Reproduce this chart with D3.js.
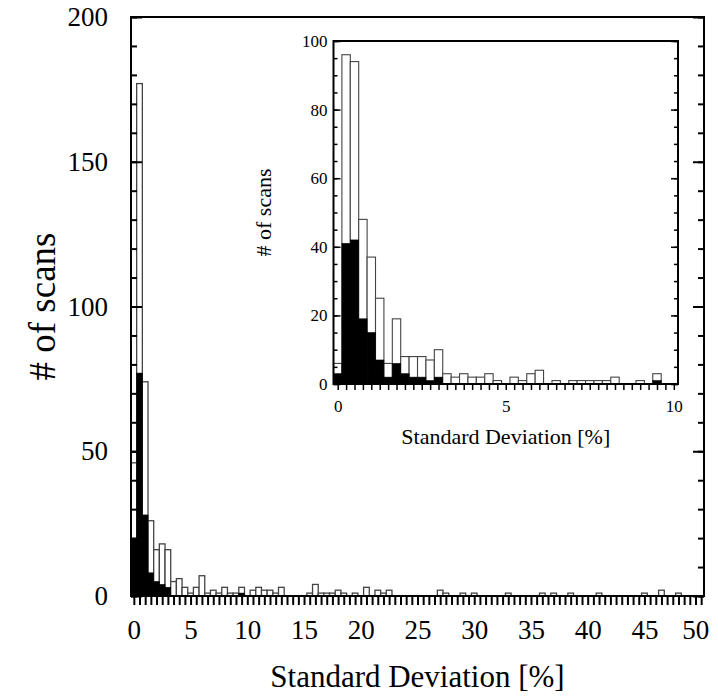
<!DOCTYPE html>
<html>
<head>
<meta charset="utf-8">
<script src="https://cdn.jsdelivr.net/npm/d3@7"></script>
<style>
  html, body { margin: 0; padding: 0; background: #fff; }
  svg { display: block; }
  text { font-family: "Liberation Serif", "Times New Roman", serif; fill: #000; }
</style>
</head>
<body>
<svg id="chart" width="718" height="696"></svg>
<script>
// ---------- data ----------
// main histogram: bins of width 0.5 %, centred at 0, 0.5, 1.0 ... 50
const mainBinWidth = 0.5;
const mainTotal = [46,177,74,26,16,18,16,5,6,3,
                   1,3,7,1,2,1,3,1,1,3,
                   0,2,3,2,2,1,3,0,0,0,
                   0,1,4,1,1,1,2,1,0,1,
                   0,3,0,2,1,2,0,0,0,0,
                   0,0,0,0,2,1,0,0,1,0,
                   1,0,0,0,0,0,1,0,0,0,
                   0,0,1,0,1,0,0,1,0,0,
                   0,0,1,0,0,0,0,0,0,0,
                   1,0,0,2,0,0,1,0,0,0,
                   0];
const mainBlack = [20,77,28,8,5,4,3,0,0,0,
                   0,0,0,0,0,0,0,0,0,1];
const mainXTickLabels = [0,5,10,15,20,25,30,35,40,45,50];
const mainYTickLabels = [0,50,100,150,200];

// inset histogram: bins of width 0.25 %, centred at 0, 0.25 ... 10
const insetBinWidth = 0.25;
const insetTotal = [6,96,94,48,37,25,6,19,8,8,
                    8,7,10,3,2,3,2,2,3,1,
                    0,2,1,3,4,0,1,0,1,1,
                    1,1,1,2,0,0,1,0,3,0,
                    0];
const insetBlack = [3,41,42,19,15,7,2,6,3,2,
                    2,1,2,0,0,0,0,0,0,0,
                    0,0,0,0,0,0,0,0,0,0,
                    0,0,0,0,0,0,0,0,1,0,
                    0];
const insetXTickLabels = [0,5,10];
const insetYTickLabels = [0,20,40,60,80,100];

const xTitle = "Standard Deviation [%]";
const yTitle = "# of scans";

// ---------- drawing ----------
const svg = d3.select("#chart");

function toBins(values, w) {
  return values.map((v, i) => ({c: i * w, v})).filter(d => d.v > 0);
}

function drawPanel(g, cfg) {
  const {x, y, w, total, black, tickStyle} = cfg;
  const [x0, x1] = x.range();
  const [y0, y1] = y.range();

  g.append("rect").attr("x", x0).attr("y", y1).attr("width", x1 - x0).attr("height", y0 - y1)
    .attr("fill", "#fff");

  // outline bars (total)
  g.append("g").selectAll("rect").data(toBins(total, w)).join("rect")
    .attr("x", d => x(d.c - w / 2))
    .attr("width", d => x(d.c + w / 2) - x(d.c - w / 2))
    .attr("y", d => y(d.v))
    .attr("height", d => y(0) - y(d.v))
    .attr("fill", "#fff")
    .attr("stroke", "#444")
    .attr("stroke-width", cfg.barStroke);

  // black bars (subset)
  g.append("g").selectAll("rect").data(toBins(black, w)).join("rect")
    .attr("x", d => x(d.c - w / 2))
    .attr("width", d => x(d.c + w / 2) - x(d.c - w / 2))
    .attr("y", d => y(d.v))
    .attr("height", d => y(0) - y(d.v))
    .attr("fill", "#000")
    .attr("stroke", "#000")
    .attr("stroke-width", 0.6);

  const t = tickStyle;
  // x axis: minor ticks at every bin centre, pointing down
  const xTicks = d3.range(0, total.length).map(i => i * w);
  const gx = g.append("g").attr("transform", `translate(0,${y0})`)
    .call(d3.axisBottom(x).tickValues(xTicks).tickSizeInner(t.xTick).tickSizeOuter(0).tickFormat(""));
  gx.select(".domain").remove();
  gx.selectAll("line").attr("stroke-width", t.xTickW);

  const gxl = g.append("g").attr("transform", `translate(0,${y0})`)
    .call(d3.axisBottom(x).tickValues(cfg.xLabels).tickSize(0).tickPadding(t.xPad).tickFormat(d3.format("d")));
  gxl.select(".domain").remove();
  gxl.selectAll("text").style("font-size", t.tickFont + "px")
    .attr("dx", d => (t.xLabelDx && t.xLabelDx[d]) || 0);

  // y axis minor ticks (inward) left and right
  const yMinor = d3.range(y.domain()[0], y.domain()[1] + 0.001, cfg.yMinorStep);
  const gyl = g.append("g").attr("transform", `translate(${x0},0)`)
    .call(d3.axisLeft(y).tickValues(yMinor).tickSizeInner(-t.yMinor).tickSizeOuter(0).tickFormat(""));
  const gyr = g.append("g").attr("transform", `translate(${x1},0)`)
    .call(d3.axisRight(y).tickValues(yMinor).tickSizeInner(-t.yMinor).tickSizeOuter(0).tickFormat(""));
  // major ticks with labels on left
  const gyL = g.append("g").attr("transform", `translate(${x0},0)`)
    .call(d3.axisLeft(y).tickValues(cfg.yLabels).tickSizeInner(-t.yMajor).tickSizeOuter(0).tickPadding(t.yPad).tickFormat(d3.format("d")));
  const gyR = g.append("g").attr("transform", `translate(${x1},0)`)
    .call(d3.axisRight(y).tickValues(cfg.yLabels).tickSizeInner(-t.yMajor).tickSizeOuter(0).tickFormat(""));
  [gyl, gyr, gyL, gyR].forEach(a => { a.select(".domain").remove(); a.selectAll("line").attr("stroke-width", t.yTickW); });
  gyL.selectAll("text").style("font-size", t.tickFont + "px");

  // frame
  g.append("rect").attr("x", x0).attr("y", y1).attr("width", x1 - x0).attr("height", y0 - y1)
    .attr("fill", "none").attr("stroke", "#000").attr("stroke-width", t.frameW);

  // titles
  g.append("text").attr("x", (x0 + x1) / 2).attr("y", t.xTitleY)
    .attr("text-anchor", "middle").style("font-size", t.xTitleFont + "px").text(xTitle);
  g.append("text").attr("transform", `translate(${t.yTitleX},${(y0 + y1) / 2}) rotate(-90)`)
    .attr("text-anchor", "middle").style("font-size", t.yTitleFont + "px").text(yTitle);
}

// main panel
const xMain = d3.scaleLinear().domain([-mainBinWidth / 2, 50 + mainBinWidth / 2]).range([131, 704]);
const yMain = d3.scaleLinear().domain([0, 200]).range([596, 17]);
drawPanel(svg.append("g"), {
  x: xMain, y: yMain, w: mainBinWidth, total: mainTotal, black: mainBlack,
  xLabels: mainXTickLabels, yLabels: mainYTickLabels, yMinorStep: 10, barStroke: 1.3,
  tickStyle: {xTick: 9, xTickW: 2, xPad: 24, tickFont: 27, yMinor: 6, yMajor: 11, yPad: 23, yTickW: 2,
              xLabelDx: {50: -6},
              frameW: 2, xTitleY: 687, yTitleX: 55, xTitleFont: 31, yTitleFont: 37}
});

// inset panel
const xIn = d3.scaleLinear().domain([-insetBinWidth / 2, 10 + insetBinWidth / 2]).range([333.5, 678]);
const yIn = d3.scaleLinear().domain([0, 100]).range([384, 41]);
drawPanel(svg.append("g"), {
  x: xIn, y: yIn, w: insetBinWidth, total: insetTotal, black: insetBlack,
  xLabels: insetXTickLabels, yLabels: insetYTickLabels, yMinorStep: 5, barStroke: 1.1,
  tickStyle: {xTick: 6, xTickW: 1.5, xPad: 16, tickFont: 17, yMinor: 4, yMajor: 7, yPad: 6, yTickW: 1.5,
              frameW: 2, xTitleY: 444, yTitleX: 271, xTitleFont: 22, yTitleFont: 22}
});
</script>
</body>
</html>
